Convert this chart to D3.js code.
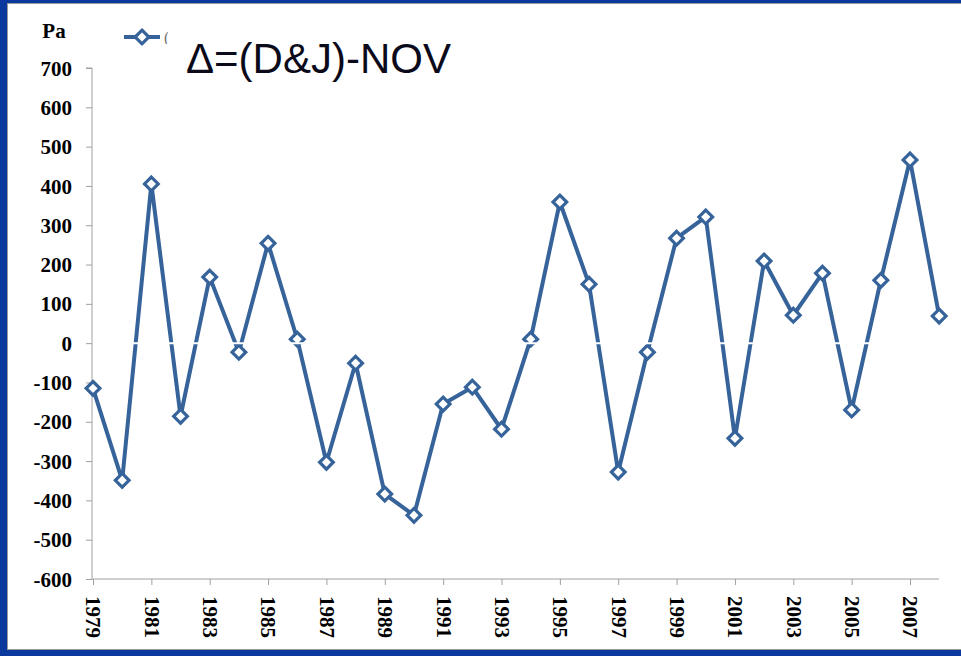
<!DOCTYPE html>
<html><head><meta charset="utf-8">
<script src="https://cdn.jsdelivr.net/npm/d3@7"></script>
<style>html,body{margin:0;padding:0;background:#fff;}svg{display:block;}</style>
</head><body>
<svg id="c" width="961" height="656"></svg>
<script>
const years = d3.range(1979, 2009);
const values = [-115,-349,405,-186,168,-23,254,10,-303,-51,-384,-438,-155,-112,-219,10,359,150,-328,-23,267,321,-242,209,71,178,-170,160,466,69];
const yTicks = [700,600,500,400,300,200,100,0,-100,-200,-300,-400,-500,-600];
const xTickYears = d3.range(1979, 2009, 2);
const unitLabel = "Pa";
const titleText = "\u0394=(D&J)-NOV";

const svg = d3.select("#c");
const blue = "#36639a";
const serif = "'Liberation Serif','Times New Roman',serif";

// frame
svg.append("rect").attr("x",0).attr("y",0).attr("width",961).attr("height",656).attr("fill","#0a389c");
svg.append("rect").attr("x",7).attr("y",3).attr("width",960).attr("height",647).attr("fill","#9a9a9a");
svg.append("rect").attr("x",8).attr("y",4).attr("width",960).attr("height",645).attr("fill","#ffffff");

const x = d3.scaleLinear().domain([1979, 2007]).range([93, 910]);
const y = d3.scaleLinear().domain([-600, 700]).range([579, 68]);

// y axis
const yAxis = d3.axisLeft(y).tickValues(yTicks).tickSize(6).tickPadding(14).tickFormat(d => String(d));
const gy = svg.append("g").attr("transform","translate(92,0)").call(yAxis);
gy.select(".domain").attr("stroke","#a0a0a0").attr("d", `M-6,${y(700)}H0V${y(-600)}`);
gy.selectAll(".tick line").attr("stroke","#a0a0a0");
gy.selectAll(".tick text").attr("font-family",serif).attr("font-weight","bold").attr("font-size",21).attr("fill","#000").attr("dy","0.34em");

// x axis
const gx = svg.append("g").attr("transform",`translate(0,${y(-600)})`)
  .call(d3.axisBottom(x).tickValues(xTickYears).tickSize(6).tickFormat(d => String(d)));
gx.select(".domain").attr("stroke","#a0a0a0").attr("d", `M92,0H939`);
gx.selectAll(".tick line").attr("stroke","#a0a0a0");
gx.selectAll(".tick text").attr("font-family",serif).attr("font-weight","bold").attr("font-size",21).attr("fill","#000")
  .attr("transform","rotate(90)").attr("text-anchor","start").attr("x",17).attr("y",0).attr("dy","0.34em");

// series
const data = years.map((yr,i)=>({yr, v: values[i]}));
svg.append("path").datum(data)
  .attr("fill","none").attr("stroke",blue).attr("stroke-width",4).attr("stroke-linejoin","round")
  .attr("d", d3.line().x(d=>x(d.yr)).y(d=>y(d.v)));
const diamond = d3.symbol().type(d3.symbolDiamond2).size(120);
svg.selectAll(".m").data(data).join("path")
  .attr("transform", d=>`translate(${x(d.yr)},${y(d.v)})`)
  .attr("d", diamond).attr("fill","#fff").attr("stroke",blue).attr("stroke-width",3.2);

// white zero line over the series
svg.append("line").attr("x1",93).attr("x2",939).attr("y1",y(0)).attr("y2",y(0))
  .attr("stroke","#fff").attr("stroke-width",2);

// unit label
svg.append("text").attr("x",54).attr("y",38).attr("text-anchor","middle")
  .attr("font-family",serif).attr("font-weight","bold").attr("font-size",21).text(unitLabel);

// legend
svg.append("line").attr("x1",124).attr("x2",160).attr("y1",37).attr("y2",37).attr("stroke",blue).attr("stroke-width",4);
svg.append("path").attr("transform","translate(142,37)").attr("d",diamond).attr("fill","#fff").attr("stroke",blue).attr("stroke-width",3.2);
svg.append("clipPath").attr("id","lc").append("rect").attr("x",164).attr("y",28).attr("width",4).attr("height",16);
svg.append("text").attr("x",164).attr("y",43).attr("clip-path","url(#lc)").attr("font-family",serif).attr("font-size",16).attr("fill","#777").text("(");

svg.append("text").attr("x",186).attr("y",73).attr("font-family","'Liberation Sans',Arial,sans-serif")
  .attr("font-size",42).attr("fill","#0a0a1a").text(titleText);
</script>
</body></html>
